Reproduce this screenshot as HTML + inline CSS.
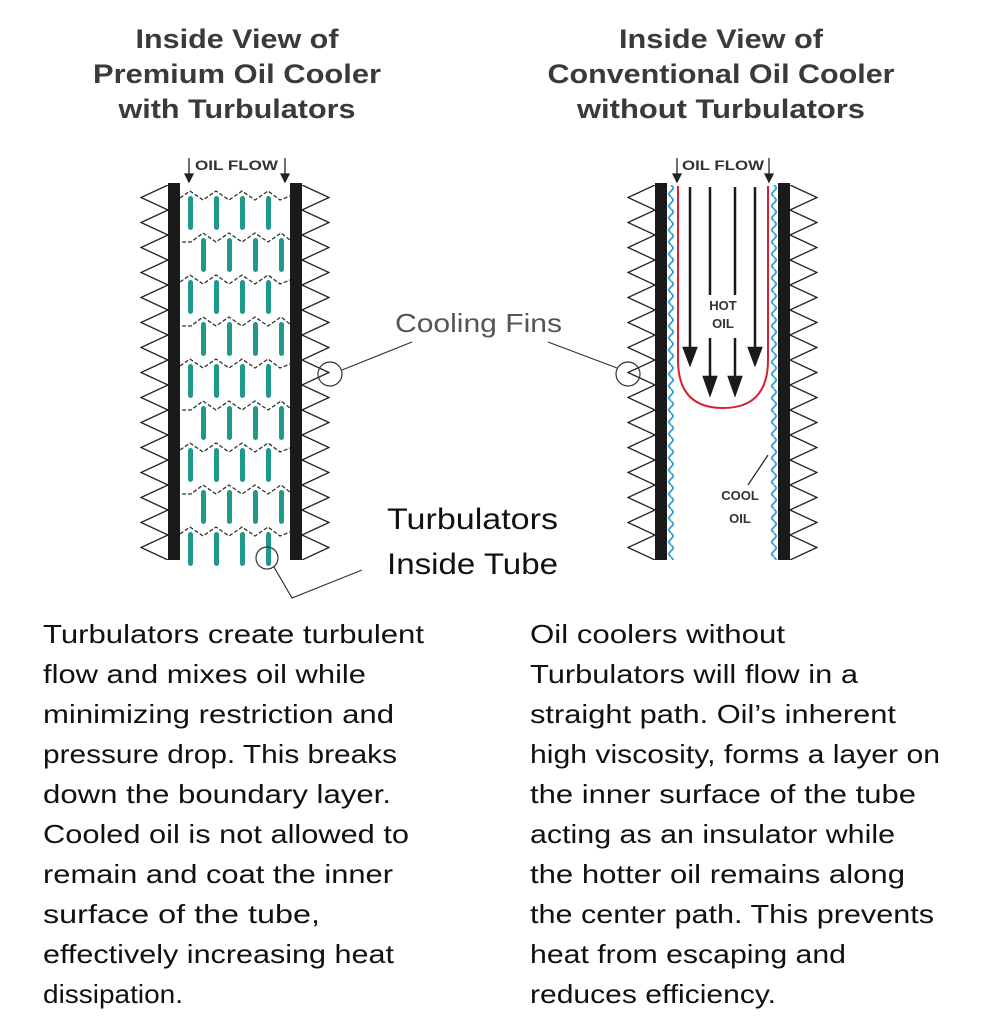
<!DOCTYPE html>
<html><head><meta charset="utf-8"><style>
body{margin:0;background:#fff;}
svg{display:block}
</style></head><body>
<svg width="986" height="1033" viewBox="0 0 986 1033" xmlns="http://www.w3.org/2000/svg">
<defs>
<pattern id="finL1" x="140" y="185" width="28" height="25" patternUnits="userSpaceOnUse">
<path d="M28,0 L1,12.5 L28,25" fill="none" stroke="#222" stroke-width="1.3"/>
</pattern>
<pattern id="finR1" x="302" y="185" width="28" height="25" patternUnits="userSpaceOnUse">
<path d="M0,0 L27,12.5 L0,25" fill="none" stroke="#222" stroke-width="1.3"/>
</pattern>
<pattern id="finL2" x="627" y="185" width="28" height="25" patternUnits="userSpaceOnUse">
<path d="M28,0 L1,12.5 L28,25" fill="none" stroke="#222" stroke-width="1.3"/>
</pattern>
<pattern id="finR2" x="790" y="185" width="28" height="25" patternUnits="userSpaceOnUse">
<path d="M0,0 L27,12.5 L0,25" fill="none" stroke="#222" stroke-width="1.3"/>
</pattern>
<pattern id="wave1" x="667" y="185" width="8" height="12" patternUnits="userSpaceOnUse">
<path d="M4,0 C7,3 7,3 4,6 C1,9 1,9 4,12" fill="none" stroke="#2a9fd8" stroke-width="1.8"/>
</pattern>
<pattern id="wave2" x="770" y="185" width="8" height="12" patternUnits="userSpaceOnUse">
<path d="M4,0 C7,3 7,3 4,6 C1,9 1,9 4,12" fill="none" stroke="#2a9fd8" stroke-width="1.8"/>
</pattern>
<g id="rowA">
<polyline points="180,10 190,3 203,12 216,3 229,12 242,3 255,12 268,3 280,12 290,8" fill="none" stroke="#333" stroke-width="1.3" stroke-dasharray="4,2"/>
<rect x="188" y="8" width="5" height="34" rx="2.5" fill="#1f9a8a"/>
<rect x="214" y="8" width="5" height="34" rx="2.5" fill="#1f9a8a"/>
<rect x="240" y="8" width="5" height="34" rx="2.5" fill="#1f9a8a"/>
<rect x="266" y="8" width="5" height="34" rx="2.5" fill="#1f9a8a"/>
</g>
<g id="rowB">
<polyline points="182,12 191,12 203,3 216,12 229,3 242,12 255,3 268,12 281,3 290,10" fill="none" stroke="#333" stroke-width="1.3" stroke-dasharray="4,2"/>
<rect x="201" y="8" width="5" height="34" rx="2.5" fill="#1f9a8a"/>
<rect x="227" y="8" width="5" height="34" rx="2.5" fill="#1f9a8a"/>
<rect x="253" y="8" width="5" height="34" rx="2.5" fill="#1f9a8a"/>
<rect x="279" y="8" width="5" height="34" rx="2.5" fill="#1f9a8a"/>
</g>
</defs>

<g font-family="Liberation Sans, sans-serif" font-weight="bold" font-size="27" fill="#3a3a3a" text-anchor="middle">
<text x="237" y="48" textLength="203" lengthAdjust="spacingAndGlyphs">Inside View of</text>
<text x="237" y="83" textLength="288" lengthAdjust="spacingAndGlyphs">Premium Oil Cooler</text>
<text x="237" y="118" textLength="237" lengthAdjust="spacingAndGlyphs">with Turbulators</text>
<text x="721" y="48" textLength="204" lengthAdjust="spacingAndGlyphs">Inside View of</text>
<text x="721" y="83" textLength="347" lengthAdjust="spacingAndGlyphs">Conventional Oil Cooler</text>
<text x="721" y="118" textLength="288" lengthAdjust="spacingAndGlyphs">without Turbulators</text>
</g>

<!-- Left tube -->
<rect x="140" y="185" width="28" height="375" fill="url(#finL1)"/>
<rect x="302" y="185" width="28" height="375" fill="url(#finR1)"/>
<rect x="168" y="183" width="12" height="377" fill="#1a1a1a"/>
<rect x="290" y="183" width="12" height="377" fill="#1a1a1a"/>
<use href="#rowA" y="188"/>
<use href="#rowB" y="230"/>
<use href="#rowA" y="272"/>
<use href="#rowB" y="314"/>
<use href="#rowA" y="356"/>
<use href="#rowB" y="398"/>
<use href="#rowA" y="440"/>
<use href="#rowB" y="482"/>
<use href="#rowA" y="524"/>
<g font-family="Liberation Sans, sans-serif" font-weight="bold" font-size="14" fill="#333">
<text x="195" y="170" textLength="83" lengthAdjust="spacingAndGlyphs">OIL FLOW</text>
<text x="682" y="170" textLength="82" lengthAdjust="spacingAndGlyphs">OIL FLOW</text>
</g>
<g stroke="#222" stroke-width="1.3" fill="#222">
<line x1="189" y1="158" x2="189" y2="178"/><path d="M185,174 L189,182 L193,174Z"/>
<line x1="285" y1="158" x2="285" y2="178"/><path d="M281,174 L285,182 L289,174Z"/>
<line x1="677" y1="158" x2="677" y2="178"/><path d="M673,174 L677,182 L681,174Z"/>
<line x1="769" y1="158" x2="769" y2="178"/><path d="M765,174 L769,182 L773,174Z"/>
</g>

<!-- Right tube -->
<rect x="627" y="185" width="28" height="375" fill="url(#finL2)"/>
<rect x="790" y="185" width="28" height="375" fill="url(#finR2)"/>
<rect x="667" y="185" width="8" height="375" fill="url(#wave1)"/>
<rect x="770" y="185" width="8" height="375" fill="url(#wave2)"/>
<rect x="655" y="183" width="12" height="377" fill="#1a1a1a"/>
<rect x="778" y="183" width="12" height="377" fill="#1a1a1a"/>
<path d="M678,186 L678,360 Q678,408 723,408 Q768,408 768,360 L768,186" fill="none" stroke="#d42030" stroke-width="2"/>
<g stroke="#1a1a1a" stroke-width="2.5" fill="#1a1a1a">
<line x1="690" y1="187" x2="690" y2="352"/><path d="M684,348 L690,364 L696,348Z"/>
<line x1="755" y1="187" x2="755" y2="352"/><path d="M749,348 L755,364 L761,348Z"/>
<line x1="710" y1="187" x2="710" y2="295"/>
<line x1="735" y1="187" x2="735" y2="295"/>
<line x1="710" y1="338" x2="710" y2="380"/><path d="M704,377 L710,394 L716,377Z"/>
<line x1="735" y1="338" x2="735" y2="380"/><path d="M729,377 L735,394 L741,377Z"/>
</g>
<g font-family="Liberation Sans, sans-serif" font-weight="bold" font-size="13" fill="#333" text-anchor="middle">
<text x="723" y="310">HOT</text>
<text x="723" y="328">OIL</text>
<text x="740" y="500">COOL</text>
<text x="740" y="523">OIL</text>
</g>
<line x1="748" y1="485" x2="768" y2="455" stroke="#222" stroke-width="1.2"/>

<!-- Cooling fins callout -->
<text x="395" y="332" font-family="Liberation Sans, sans-serif" font-size="26" fill="#555" textLength="167" lengthAdjust="spacingAndGlyphs">Cooling Fins</text>
<g stroke="#333" stroke-width="1.2" fill="none">
<polyline points="412,342 342,370"/>
<circle cx="330" cy="374" r="12"/>
<polyline points="548,342 617,368"/>
<circle cx="628" cy="374" r="12"/>
<circle cx="267" cy="558" r="11"/>
<polyline points="274,567 292,598 362,570"/>
</g>
<g font-family="Liberation Sans, sans-serif" font-size="30" fill="#111">
<text x="387" y="529" textLength="171" lengthAdjust="spacingAndGlyphs">Turbulators</text>
<text x="387" y="574" textLength="171" lengthAdjust="spacingAndGlyphs">Inside Tube</text>
</g>

<g font-family="Liberation Sans, sans-serif" font-size="26" fill="#111">
<text x="43" y="643" textLength="381" lengthAdjust="spacingAndGlyphs">Turbulators create turbulent</text>
<text x="43" y="683" textLength="323" lengthAdjust="spacingAndGlyphs">flow and mixes oil while</text>
<text x="43" y="723" textLength="351" lengthAdjust="spacingAndGlyphs">minimizing restriction and</text>
<text x="43" y="763" textLength="354" lengthAdjust="spacingAndGlyphs">pressure drop. This breaks</text>
<text x="43" y="803" textLength="348" lengthAdjust="spacingAndGlyphs">down the boundary layer.</text>
<text x="43" y="843" textLength="366" lengthAdjust="spacingAndGlyphs">Cooled oil is not allowed to</text>
<text x="43" y="883" textLength="350" lengthAdjust="spacingAndGlyphs">remain and coat the inner</text>
<text x="43" y="923" textLength="277" lengthAdjust="spacingAndGlyphs">surface of the tube,</text>
<text x="43" y="963" textLength="351" lengthAdjust="spacingAndGlyphs">effectively increasing heat</text>
<text x="43" y="1003" textLength="140" lengthAdjust="spacingAndGlyphs">dissipation.</text>
<text x="530" y="643" textLength="255" lengthAdjust="spacingAndGlyphs">Oil coolers without</text>
<text x="530" y="683" textLength="328" lengthAdjust="spacingAndGlyphs">Turbulators will flow in a</text>
<text x="530" y="723" textLength="366" lengthAdjust="spacingAndGlyphs">straight path. Oil’s inherent</text>
<text x="530" y="763" textLength="410" lengthAdjust="spacingAndGlyphs">high viscosity, forms a layer on</text>
<text x="530" y="803" textLength="386" lengthAdjust="spacingAndGlyphs">the inner surface of the tube</text>
<text x="530" y="843" textLength="365" lengthAdjust="spacingAndGlyphs">acting as an insulator while</text>
<text x="530" y="883" textLength="375" lengthAdjust="spacingAndGlyphs">the hotter oil remains along</text>
<text x="530" y="923" textLength="404" lengthAdjust="spacingAndGlyphs">the center path. This prevents</text>
<text x="530" y="963" textLength="316" lengthAdjust="spacingAndGlyphs">heat from escaping and</text>
<text x="530" y="1003" textLength="246" lengthAdjust="spacingAndGlyphs">reduces efficiency.</text>
</g>
</svg>
</body></html>
